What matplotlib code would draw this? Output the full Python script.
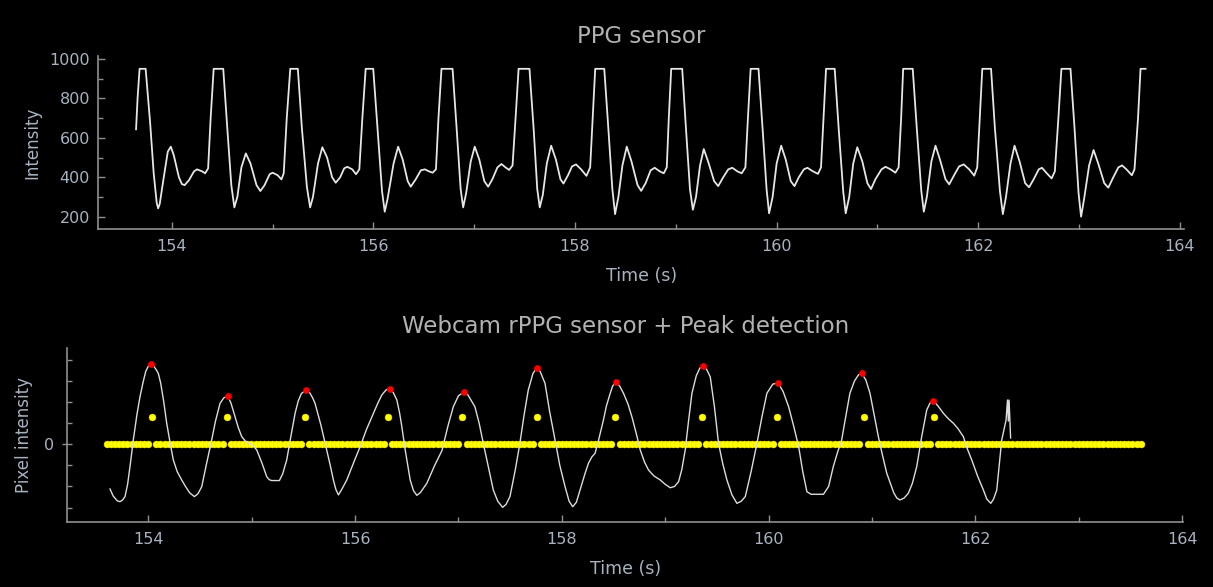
import numpy as np
import matplotlib
matplotlib.use("Agg")
import matplotlib.pyplot as plt
from matplotlib.ticker import MultipleLocator

# Contact PPG sensor trace (clips at 950)
ppg_t = [
    153.645, 153.66, 153.68, 153.74, 153.785, 153.82, 153.85, 153.864, 153.88, 153.92,
    153.96, 153.99, 154.02, 154.07, 154.10, 154.127, 154.17, 154.22, 154.25, 154.30,
    154.33, 154.36, 154.385, 154.415, 154.51,
    154.55, 154.59, 154.62, 154.65, 154.69, 154.734, 154.78, 154.84, 154.878, 154.92,
    154.97, 155.0, 155.05, 155.087, 155.11, 155.14, 155.175, 155.25,
    155.29, 155.34, 155.372, 155.40, 155.45, 155.493, 155.54, 155.59, 155.626, 155.67,
    155.71, 155.74, 155.79, 155.827, 155.86, 155.89, 155.923, 155.998,
    156.04, 156.085, 156.112, 156.14, 156.20, 156.245, 156.29, 156.34, 156.37, 156.42,
    156.47, 156.51, 156.55, 156.587, 156.62, 156.645, 156.675, 156.785,
    156.825, 156.865, 156.89, 156.92, 156.965, 157.005, 157.05, 157.10, 157.138, 157.18,
    157.23, 157.27, 157.31, 157.346, 157.38, 157.41, 157.44, 157.548,
    157.59, 157.625, 157.65, 157.68, 157.72, 157.763, 157.81, 157.855, 157.885, 157.93,
    157.97, 158.01, 158.06, 158.113, 158.15, 158.175, 158.20, 158.29,
    158.33, 158.37, 158.397, 158.43, 158.47, 158.513, 158.56, 158.62, 158.656, 158.70,
    158.75, 158.79, 158.84, 158.88, 158.91, 158.93, 158.954, 159.063,
    159.10, 159.14, 159.169, 159.20, 159.24, 159.277, 159.32, 159.38, 159.42, 159.47,
    159.52, 159.56, 159.61, 159.653, 159.69, 159.715, 159.742, 159.82,
    159.86, 159.90, 159.925, 159.96, 160.0, 160.045, 160.09, 160.14, 160.177, 160.22,
    160.27, 160.305, 160.36, 160.41, 160.44, 160.465, 160.49, 160.576,
    160.615, 160.66, 160.685, 160.72, 160.76, 160.80, 160.85, 160.90, 160.936, 160.98,
    161.04, 161.08, 161.13, 161.178, 161.21, 161.235, 161.255, 161.35,
    161.39, 161.435, 161.46, 161.49, 161.535, 161.576, 161.62, 161.675, 161.712, 161.76,
    161.81, 161.856, 161.91, 161.96, 161.99, 162.015, 162.04, 162.127,
    162.165, 162.215, 162.244, 162.275, 162.32, 162.36, 162.41, 162.465, 162.504, 162.55,
    162.60, 162.632, 162.68, 162.728, 162.76, 162.795, 162.825, 162.915,
    162.955, 162.995, 163.02, 163.05, 163.10, 163.144, 163.19, 163.25, 163.29, 163.34,
    163.39, 163.427, 163.47, 163.524, 163.55, 163.585, 163.61, 163.66,
]
ppg_v = [
    643, 800, 950, 950, 674, 420, 270, 242, 265, 400,
    530, 555, 510, 400, 365, 360, 385, 430, 440, 430,
    420, 445, 700, 950, 950,
    650, 360, 247, 300, 450, 521, 470, 360, 330, 360,
    415, 423, 410, 389, 420, 700, 950, 950,
    650, 350, 247, 300, 470, 552, 500, 400, 372, 400,
    445, 453, 440, 415, 440, 700, 950, 950,
    650, 330, 225, 290, 470, 555, 490, 380, 352, 390,
    435, 440, 430, 423, 440, 700, 950, 950,
    650, 340, 247, 320, 480, 555, 490, 380, 352, 390,
    450, 467, 450, 437, 460, 700, 950, 950,
    640, 340, 247, 310, 470, 560, 490, 390, 368, 410,
    455, 465, 440, 407, 450, 700, 950, 950,
    650, 340, 213, 300, 460, 555, 480, 360, 331, 370,
    435, 448, 430, 420, 450, 700, 950, 950,
    650, 340, 235, 300, 460, 543, 480, 380, 355, 400,
    440, 448, 430, 420, 450, 700, 950, 950,
    650, 340, 217, 300, 470, 560, 490, 380, 355, 400,
    440, 448, 430, 417, 450, 700, 950, 950,
    650, 330, 217, 300, 470, 552, 480, 370, 340, 390,
    440, 453, 440, 423, 450, 700, 950, 950,
    650, 330, 225, 300, 480, 560, 490, 390, 364, 410,
    455, 465, 440, 408, 450, 700, 950, 950,
    650, 330, 213, 300, 470, 560, 480, 370, 349, 390,
    440, 448, 420, 394, 430, 700, 950, 950,
    650, 320, 200, 290, 460, 538, 470, 370, 347, 400,
    450, 460, 440, 410, 440, 700, 950, 950,
]

# Webcam rPPG trace
rppg_t = [
    153.63, 153.66, 153.70, 153.726, 153.75, 153.775, 153.80, 153.83, 153.855, 153.89,
    153.92, 153.95, 153.975, 154.00, 154.026, 154.05, 154.075, 154.097, 154.12, 154.15,
    154.178, 154.21, 154.242, 154.28, 154.323, 154.36, 154.40, 154.446, 154.48, 154.517,
    154.56, 154.613, 154.65, 154.694, 154.73, 154.768, 154.80, 154.839, 154.87, 154.904,
    154.94, 154.98, 155.02, 155.049, 155.10, 155.146, 155.17, 155.194, 155.268, 155.30,
    155.339, 155.38, 155.42, 155.45, 155.48, 155.523, 155.56, 155.59, 155.613, 155.67,
    155.726, 155.76, 155.79, 155.815, 155.839, 155.87, 155.92, 156.0, 156.049, 156.11,
    156.178, 156.22, 156.259, 156.30, 156.333, 156.37, 156.404, 156.43, 156.45, 156.485,
    156.51, 156.533, 156.565, 156.597, 156.63, 156.694, 156.77, 156.84, 156.90, 156.95,
    157.00, 157.056, 157.09, 157.12, 157.159, 157.20, 157.24, 157.29, 157.337, 157.38,
    157.427, 157.46, 157.498, 157.55, 157.594, 157.635, 157.675, 157.72, 157.756, 157.79,
    157.837, 157.88, 157.934, 157.98, 158.031, 158.07, 158.105, 158.14, 158.176, 158.22,
    158.257, 158.29, 158.321, 158.36, 158.402, 158.43, 158.46, 158.49, 158.522, 158.56,
    158.596, 158.64, 158.677, 158.72, 158.758, 158.80, 158.838, 158.89, 158.951, 159.00,
    159.048, 159.09, 159.129, 159.16, 159.193, 159.225, 159.258, 159.30, 159.335, 159.364,
    159.40, 159.435, 159.475, 159.515, 159.555, 159.596, 159.645, 159.693, 159.735, 159.774,
    159.83, 159.887, 159.935, 159.983, 160.04, 160.09, 160.14, 160.193, 160.24, 160.29,
    160.33, 160.37, 160.41, 160.53, 160.58, 160.625, 160.665, 160.706, 160.745, 160.786,
    160.83, 160.87, 160.90, 160.94, 160.98, 161.02, 161.061, 161.10, 161.142, 161.21,
    161.24, 161.27, 161.31, 161.351, 161.39, 161.432, 161.48, 161.529, 161.56, 161.593,
    161.64, 161.69, 161.74, 161.786, 161.83, 161.883, 161.92, 161.964, 162.02, 162.077,
    162.11, 162.148, 162.175, 162.206, 162.23, 162.254, 162.296, 162.31, 162.318, 162.325,
    162.34,
]
rppg_v = [
    -2.12, -2.45, -2.68, -2.72, -2.65, -2.48, -1.9, -0.8, 0.2, 1.4,
    2.26, 2.95, 3.45, 3.7, 3.79, 3.72, 3.55, 3.36, 2.9, 2.0,
    1.0, 0.1, -0.74, -1.3, -1.69, -2.0, -2.3, -2.48, -2.35, -2.01,
    -1.0, 0.2, 1.1, 1.94, 2.2, 2.29, 1.95, 1.31, 0.8, 0.36,
    0.15, 0.05, -0.1, -0.27, -0.9, -1.54, -1.68, -1.72, -1.72, -1.4,
    -0.74, 0.4, 1.47, 2.05, 2.4, 2.57, 2.45, 2.2, 1.94, 0.9,
    -0.27, -1.0, -1.69, -2.15, -2.4, -2.15, -1.69, -0.7, -0.11, 0.7,
    1.47, 1.95, 2.34, 2.58, 2.64, 2.45, 2.1, 1.5, 0.9, -0.27,
    -1.0, -1.69, -2.2, -2.42, -2.3, -1.85, -1.0, -0.3, 0.9, 1.78,
    2.3, 2.49, 2.35, 2.1, 1.78, 1.0, 0.05, -1.1, -2.17, -2.7,
    -2.99, -2.85, -2.48, -1.2, 0.05, 1.4, 2.57, 3.35, 3.63, 3.45,
    2.89, 1.6, 0.2, -1.0, -2.01, -2.7, -2.96, -2.75, -2.17, -1.45,
    -0.9, -0.6, -0.43, 0.3, 1.15, 1.8, 2.3, 2.75, 2.97, 2.75,
    2.42, 1.9, 1.31, 0.5, -0.27, -0.85, -1.22, -1.5, -1.69, -1.9,
    -2.06, -2.0, -1.77, -1.2, -0.27, 1.1, 2.42, 3.25, 3.62, 3.71,
    3.55, 3.2, 1.8, 0.05, -0.9, -1.69, -2.4, -2.8, -2.7, -2.48,
    -1.3, 0.05, 1.3, 2.42, 2.85, 2.92, 2.5, 1.78, 0.9, -0.11,
    -1.3, -2.25, -2.37, -2.37, -2.0, -1.06, -0.4, 0.2, 1.3, 2.42,
    3.0, 3.3, 3.36, 3.05, 2.42, 1.4, 0.36, -0.5, -1.37, -2.3,
    -2.55, -2.64, -2.55, -2.32, -1.85, -1.06, 0.36, 1.63, 1.95, 2.07,
    1.8, 1.47, 1.2, 1.0, 0.75, 0.36, -0.2, -0.74, -1.5, -2.17,
    -2.6, -2.8, -2.6, -2.17, -1.0, 0.2, 1.15, 2.1, 1.1, 2.1,
    0.3,
]

# Detected peaks on the rPPG trace
peak_t = [154.026, 154.768, 155.523, 156.333, 157.056, 157.756,
          158.522, 159.364, 160.09, 160.9, 161.593]
peak_v = [3.79, 2.29, 2.57, 2.64, 2.49, 3.63, 2.97, 3.71, 2.92, 3.36, 2.07]

# Peak indicator stream, one flag per webcam frame
FRAME_T0 = 153.598
FRAME_RATE = 25.0
N_FRAMES = 251
PEAK_FLAG_LEVEL = 1.28

BG = "black"
AXIS_COLOR = "#8f8f8f"
TEXT_COLOR = "#a7b3c0"
TITLE_COLOR = "#b2b2b2"


def style_axes(ax):
    ax.set_facecolor(BG)
    for side in ("top", "right"):
        ax.spines[side].set_visible(False)
    for side in ("left", "bottom"):
        ax.spines[side].set_color(AXIS_COLOR)
        ax.spines[side].set_linewidth(1.2)
    ax.tick_params(which="both", direction="in", colors=AXIS_COLOR,
                   labelcolor=TEXT_COLOR, labelsize=11.5)
    ax.tick_params(which="major", length=5, width=1)
    ax.tick_params(which="minor", length=3.5, width=1)
    ax.tick_params(axis="x", pad=7)
    ax.tick_params(axis="y", pad=6)
    ax.xaxis.set_major_locator(MultipleLocator(2))
    ax.xaxis.set_minor_locator(MultipleLocator(1))
    ax.set_xlabel("Time (s)", color=TEXT_COLOR, fontsize=12.5, labelpad=9)


def main():
    plt.rcParams["font.family"] = ["DejaVu Sans"]

    fig = plt.figure(figsize=(12.13, 5.87), dpi=100, facecolor=BG)

    # PPG sensor
    ax1 = fig.add_axes([0.081, 0.6094, 0.895, 0.2952])
    style_axes(ax1)
    ax1.plot(ppg_t, ppg_v, color="#e6e6e6", lw=1.3)
    ax1.set_xlim(153.27, 164.04)
    ax1.set_ylim(136, 1015)
    ax1.yaxis.set_major_locator(MultipleLocator(200))
    ax1.yaxis.set_minor_locator(MultipleLocator(100))
    ax1.set_ylabel("Intensity", color=TEXT_COLOR, fontsize=12, labelpad=6)
    ax1.set_title("PPG sensor", color=TITLE_COLOR, fontsize=16.5, pad=9)

    # Webcam rPPG + peaks
    ax2 = fig.add_axes([0.0555, 0.1102, 0.920, 0.2964])
    style_axes(ax2)
    frame_t = FRAME_T0 + np.arange(N_FRAMES) / FRAME_RATE
    flags = np.zeros(N_FRAMES)
    for p in peak_t:
        flags[np.argmin(np.abs(frame_t - p))] = PEAK_FLAG_LEVEL

    ax2.plot(frame_t, flags, ls="none", marker="o", ms=5.0,
             mfc="#ffff00", mec="#f2d200", mew=0.3, zorder=2)
    ax2.plot(rppg_t, rppg_v, color="#dcdcdc", lw=1.0, zorder=3)
    ax2.plot(peak_t, peak_v, ls="none", marker="o", ms=4.5,
             mfc="#ff0000", mec="#d00000", mew=0.5, zorder=4)
    ax2.set_xlim(153.217, 164.01)
    ax2.set_ylim(-3.70, 4.55)
    ax2.yaxis.set_major_locator(MultipleLocator(5))
    ax2.yaxis.set_minor_locator(MultipleLocator(1))
    ax2.tick_params(axis="y", which="major", direction="inout", length=7)
    ax2.set_ylabel("Pixel intensity", color=TEXT_COLOR, fontsize=12, labelpad=8)
    ax2.set_title("Webcam rPPG sensor + Peak detection", color=TITLE_COLOR,
                  fontsize=16.5, pad=11)

    fig.savefig("out.png", dpi=100, facecolor=fig.get_facecolor())
    plt.close(fig)


if __name__ == "__main__":
    main()
